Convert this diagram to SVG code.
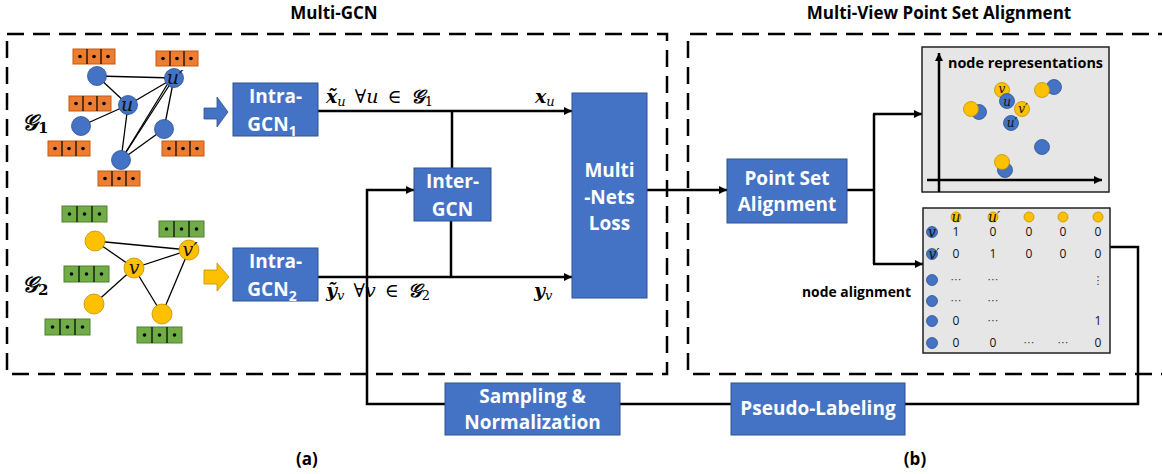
<svg xmlns="http://www.w3.org/2000/svg" width="1162" height="474" viewBox="0 0 1162 474">
<style>
.t{font-family:"Open Sans","Liberation Sans",sans-serif;font-weight:700;fill:#000}
.bt{font-family:"Open Sans","Liberation Sans",sans-serif;font-weight:700;fill:#fff;font-size:19px;text-anchor:middle}
.m{font-family:"DejaVu Serif","Liberation Serif",serif;font-style:italic}
.up{font-style:normal}
.box{fill:#4472C4;stroke:#2F528F;stroke-width:1}
.dash{fill:none;stroke:#000;stroke-width:2.5;stroke-dasharray:17 9}
.ln{fill:none;stroke:#000;stroke-width:2.5}
.e{stroke:#000;stroke-width:1.3}
.bn{fill:#4472C4;stroke:#2F528F;stroke-width:0.8}
.yn{fill:#FFC000;stroke:#BF9000;stroke-width:0.8}
.nl{font-family:"DejaVu Serif","Liberation Serif",serif;font-style:italic;text-anchor:middle;fill:#111}
.mx{font-family:"Open Sans","Liberation Sans",sans-serif;font-size:12px;text-anchor:middle;fill:#111}
.el{font-family:"DejaVu Sans",sans-serif;font-size:11px;text-anchor:middle;fill:#333}
.panel{fill:#E7E6E6;stroke:#222;stroke-width:1.5}
</style>
<defs>
<marker id="ah" viewBox="0 0 10 10" refX="10" refY="5" markerWidth="3.4" markerHeight="3.2" orient="auto" markerUnits="strokeWidth"><path d="M0,0 L10,5 L0,10 z" fill="#000"/></marker>
<g id="fo"><rect x="0" y="0" width="42" height="15" fill="#ED7D31" stroke="#C55A11" stroke-width="1"/><path d="M14,0V15M28,0V15" stroke="#000" stroke-width="1.2"/><circle cx="7" cy="7.5" r="1.8"/><circle cx="21" cy="7.5" r="1.8"/><circle cx="35" cy="7.5" r="1.8"/></g>
<g id="fg"><rect x="0" y="0" width="45" height="16" fill="#70AD47" stroke="#507E32" stroke-width="1"/><path d="M15,0V16M30,0V16" stroke="#000" stroke-width="1.2"/><circle cx="7.5" cy="8" r="1.8"/><circle cx="22.5" cy="8" r="1.8"/><circle cx="37.5" cy="8" r="1.8"/></g>
</defs>
<rect width="1162" height="474" fill="#fff"/>

<g id="titles">
<text class="t" x="334" y="19" font-size="17" text-anchor="middle">Multi-GCN</text>
<text class="t" x="939" y="19" font-size="17" text-anchor="middle">Multi-View Point Set Alignment</text>
<text class="t" x="307" y="465" font-size="17" text-anchor="middle">(a)</text>
<text class="t" x="915" y="465" font-size="17" text-anchor="middle">(b)</text>
</g>

<g id="frames">
<rect class="dash" x="7" y="34" width="660" height="340"/>
<path class="dash" d="M1175,34 H688 V374 H1175"/>
</g>

<g id="graph1">
<g class="e">
<line x1="97" y1="76" x2="174" y2="78"/>
<line x1="97" y1="76" x2="128" y2="105"/>
<line x1="128" y1="105" x2="81" y2="126"/>
<line x1="128" y1="105" x2="174" y2="78"/>
<line x1="128" y1="105" x2="121" y2="160"/>
<line x1="174" y1="78" x2="121" y2="160"/>
<line x1="170" y1="80" x2="121" y2="160"/>
<line x1="174" y1="78" x2="164" y2="129"/>
<line x1="164" y1="129" x2="121" y2="160"/>
</g>
<use href="#fo" x="73" y="49"/>
<use href="#fo" x="156" y="51"/>
<use href="#fo" x="69" y="96"/>
<use href="#fo" x="48" y="141"/>
<use href="#fo" x="162" y="141"/>
<use href="#fo" x="98" y="171"/>
<circle class="bn" cx="97" cy="76" r="9.5"/>
<circle class="bn" cx="174" cy="78" r="9.5"/>
<circle class="bn" cx="128" cy="105" r="9.5"/>
<circle class="bn" cx="81" cy="126" r="9.5"/>
<circle class="bn" cx="164" cy="129" r="9.5"/>
<circle class="bn" cx="121" cy="160" r="9.5"/>
<text class="nl" x="127" y="111" font-size="19">u</text>
<text class="nl" x="175" y="84" font-size="19">u′</text>
<text class="m" x="22" y="130" font-size="22" font-weight="700">𝒢<tspan class="up" font-size="15" dy="3">1</tspan></text>
<path d="M204,108 H217 V97 L228,112 L217,127 V119 H204 Z" fill="#4472C4" stroke="#2F528F" stroke-width="0.8"/>
</g>

<g id="graph2">
<g class="e">
<line x1="95" y1="241" x2="189" y2="250"/>
<line x1="95" y1="241" x2="134" y2="268"/>
<line x1="134" y1="268" x2="189" y2="250"/>
<line x1="134" y1="268" x2="94" y2="304"/>
<line x1="134" y1="268" x2="162" y2="314"/>
<line x1="189" y1="250" x2="162" y2="314"/>
</g>
<use href="#fg" x="62" y="206"/>
<use href="#fg" x="159" y="221"/>
<use href="#fg" x="64" y="266"/>
<use href="#fg" x="45" y="319"/>
<use href="#fg" x="137" y="327"/>
<circle class="yn" cx="95" cy="241" r="10"/>
<circle class="yn" cx="189" cy="250" r="10"/>
<circle class="yn" cx="134" cy="268" r="10"/>
<circle class="yn" cx="94" cy="304" r="10"/>
<circle class="yn" cx="162" cy="314" r="10"/>
<text class="nl" x="134" y="274" font-size="19">v</text>
<text class="nl" x="190" y="256" font-size="19">v′</text>
<text class="m" x="22" y="292" font-size="22" font-weight="700">𝒢<tspan class="up" font-size="15" dy="3">2</tspan></text>
<path d="M204,270 H217 V263 L229,277 L217,291 V284 H204 Z" fill="#FFC000" stroke="#BF9000" stroke-width="0.8"/>
</g>

<g id="connectors">
<path class="ln" d="M318,111 H572" marker-end="url(#ah)"/>
<path class="ln" d="M318,277 H572" marker-end="url(#ah)"/>
<path class="ln" d="M452,111 V168"/>
<path class="ln" d="M451,221 V277"/>
<path class="ln" d="M1110,247 H1138 V404 H367 V190 H414" marker-end="url(#ah)"/>
<path class="ln" d="M647,190 H727" marker-end="url(#ah)"/>
<path class="ln" d="M847,190 H874"/>
<path class="ln" d="M874,114 V264"/>
<path class="ln" d="M873,114 H922" marker-end="url(#ah)"/>
<path class="ln" d="M873,264 H923" marker-end="url(#ah)"/>
</g>

<g id="edge-labels">
<text class="m" x="326" y="103" font-size="19" word-spacing="3"><tspan font-weight="700">x̃</tspan><tspan font-size="13" dy="3">u</tspan><tspan dy="-3" class="up"> ∀</tspan>u<tspan class="up"> ∈ </tspan><tspan font-weight="700">𝒢</tspan><tspan class="up" font-size="13" dy="3">1</tspan></text>
<text class="m" x="535" y="103" font-size="19"><tspan font-weight="700">x</tspan><tspan font-size="13" dy="3">u</tspan></text>
<text class="m" x="326" y="297" font-size="19" word-spacing="3"><tspan font-weight="700">ỹ</tspan><tspan font-size="13" dy="3">v</tspan><tspan dy="-3" class="up"> ∀</tspan>v<tspan class="up"> ∈ </tspan><tspan font-weight="700">𝒢</tspan><tspan class="up" font-size="13" dy="3">2</tspan></text>
<text class="m" x="534" y="297" font-size="19"><tspan font-weight="700">y</tspan><tspan font-size="13" dy="3">v</tspan></text>
</g>

<g id="intra1">
<rect class="box" x="233" y="83" width="85" height="53"/>
<text class="bt" x="275.5" y="103">Intra-</text>
<text class="bt" x="272" y="131">GCN<tspan font-size="14" dy="5">1</tspan></text>
</g>
<g id="intra2">
<rect class="box" x="233" y="248" width="85" height="53"/>
<text class="bt" x="275.5" y="268">Intra-</text>
<text class="bt" x="272" y="296">GCN<tspan font-size="14" dy="5">2</tspan></text>
</g>
<g id="inter">
<rect class="box" x="414" y="168" width="77" height="53"/>
<text class="bt" x="452.5" y="188">Inter-</text>
<text class="bt" x="452.5" y="216">GCN</text>
</g>
<g id="loss">
<rect class="box" x="572" y="93" width="75" height="205"/>
<text class="bt" x="609.5" y="177">Multi</text>
<text class="bt" x="609.5" y="204">-Nets</text>
<text class="bt" x="609.5" y="230">Loss</text>
</g>
<g id="psa">
<rect class="box" x="727" y="159" width="120" height="64"/>
<text class="bt" x="787" y="185">Point Set</text>
<text class="bt" x="787" y="211">Alignment</text>
</g>
<g id="sampling">
<rect class="box" x="445" y="383" width="175" height="52"/>
<text class="bt" x="532.5" y="403">Sampling &amp;</text>
<text class="bt" x="532.5" y="429">Normalization</text>
</g>
<g id="pseudo">
<rect class="box" x="731" y="383" width="174" height="52"/>
<text class="bt" x="818" y="415">Pseudo-Labeling</text>
</g>

<g id="noderep">
<rect class="panel" x="922" y="47" width="187" height="145"/>
<path class="ln" stroke-width="2" d="M939,192 V53" marker-end="url(#ah)"/>
<path class="ln" stroke-width="2" d="M927,180 H1102" marker-end="url(#ah)"/>
<text class="t" x="948" y="68" font-size="15" textLength="155" lengthAdjust="spacingAndGlyphs">node representations</text>
<circle class="bn" cx="1054" cy="87" r="7.5"/>
<circle class="yn" cx="1042" cy="90" r="7.5"/>
<circle class="bn" cx="979" cy="112" r="7.5"/>
<circle class="yn" cx="971" cy="109" r="7.5"/>
<circle class="bn" cx="1042" cy="147" r="7.5"/>
<circle class="bn" cx="1005" cy="170" r="7.5"/>
<circle class="yn" cx="1002" cy="162" r="7.5"/>
<circle class="yn" cx="1002" cy="90" r="7.5"/>
<circle class="bn" cx="1007" cy="101" r="7.5"/>
<circle class="bn" cx="1011" cy="123" r="7.5"/>
<circle class="yn" cx="1022" cy="109" r="7.5"/>
<text class="nl" x="1002" y="93" font-size="12">v</text>
<text class="nl" x="1007" y="106" font-size="12">u</text>
<text class="nl" x="1023" y="113" font-size="12">v′</text>
<text class="nl" x="1012" y="127" font-size="12">u′</text>
</g>

<g id="nodealign">
<text class="t" x="802" y="297" font-size="15" textLength="109" lengthAdjust="spacingAndGlyphs">node alignment</text>
<rect class="panel" x="923" y="208" width="187" height="145"/>
<circle class="yn" cx="956" cy="217" r="5"/>
<circle class="yn" cx="993" cy="217" r="5"/>
<circle class="yn" cx="1029" cy="217" r="5"/>
<circle class="yn" cx="1063" cy="217" r="5"/>
<circle class="yn" cx="1098" cy="217" r="5"/>
<text class="nl" x="956" y="222" font-size="14">u</text>
<text class="nl" x="994" y="222" font-size="14">u′</text>
<circle class="bn" cx="932" cy="232" r="5.5"/>
<circle class="bn" cx="932" cy="254" r="5.5"/>
<circle class="bn" cx="932" cy="280" r="5.5"/>
<circle class="bn" cx="932" cy="301" r="5.5"/>
<circle class="bn" cx="932" cy="321" r="5.5"/>
<circle class="bn" cx="932" cy="343" r="5.5"/>
<text class="nl" x="932" y="237" font-size="14">v</text>
<text class="nl" x="934" y="259" font-size="14">v′</text>
<text class="mx" x="956" y="236">1</text><text class="mx" x="993" y="236">0</text><text class="mx" x="1029" y="236">0</text><text class="mx" x="1063" y="236">0</text><text class="mx" x="1098" y="236">0</text>
<text class="mx" x="956" y="258">0</text><text class="mx" x="993" y="258">1</text><text class="mx" x="1029" y="258">0</text><text class="mx" x="1063" y="258">0</text><text class="mx" x="1098" y="258">0</text>
<text class="el" x="956" y="283">⋯</text><text class="el" x="993" y="283">⋯</text><text class="el" x="1098" y="284">⋮</text>
<text class="el" x="956" y="304">⋯</text><text class="el" x="993" y="304">⋯</text>
<text class="mx" x="956" y="325">0</text><text class="el" x="993" y="324">⋯</text><text class="mx" x="1098" y="325">1</text>
<text class="mx" x="956" y="347">0</text><text class="mx" x="993" y="347">0</text><text class="el" x="1029" y="346">⋯</text><text class="el" x="1063" y="346">⋯</text><text class="mx" x="1098" y="347">0</text>
</g>
</svg>
